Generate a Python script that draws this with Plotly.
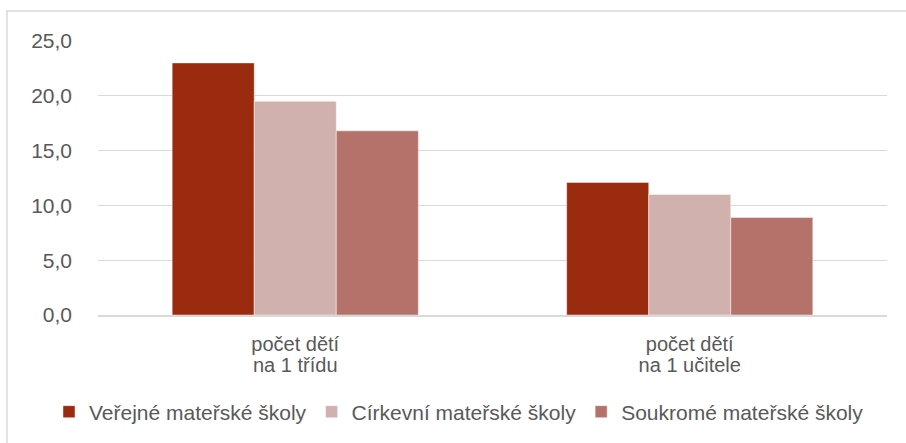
import plotly.graph_objects as go

categories = ["počet dětí na 1 třídu", "počet dětí na 1 učitele"]
cat_line1 = ["počet dětí", "počet dětí"]
cat_line2 = ["na 1 třídu", "na 1 učitele"]
series_names = ["Veřejné mateřské školy", "Církevní mateřské školy", "Soukromé mateřské školy"]
verejne = [23.0, 12.1]
cirkevni = [19.5, 11.0]
soukrome = [16.8, 8.9]
tick_vals = [0, 5, 10, 15, 20, 25]
tick_text = ["0,0", "5,0", "10,0", "15,0", "20,0", "25,0"]

colors = ["#9B2B0E", "#D0B1AE", "#B5726B"]
W, H = 906, 443
L, R, T, B = 98, 19, 41, 127
FS = 21
GREY = "#595959"

fig = go.Figure()
for name, vals, col in zip(series_names, [verejne, cirkevni, soukrome], colors):
    fig.add_trace(go.Bar(x=categories, y=vals, name=name,
                         marker=dict(color=col, line=dict(color="rgba(255,255,255,0.45)", width=1))))
# helper trace so the second-line category axis is drawn
fig.add_trace(go.Scatter(x=[0, 1], y=[None, None], xaxis="x2", yaxis="y",
                         showlegend=False, hoverinfo="skip", mode="markers"))

pw, ph = W - L - R, H - T - B
fig.update_layout(
    width=W, height=H,
    margin=dict(l=L, r=R, t=T, b=B, pad=0),
    paper_bgcolor="white", plot_bgcolor="white",
    barmode="group", bargap=0.376, bargroupgap=0,
    font=dict(family="Liberation Sans, Arial, sans-serif", size=FS, color=GREY),
    xaxis=dict(showgrid=False, showline=True, linecolor="#d9d9d9", linewidth=1.5,
               range=[-0.5, 1.5], tickvals=categories, ticktext=cat_line1, automargin=False,
               ticks="", tickfont=dict(size=20, color=GREY), ticklabelstandoff=10),
    xaxis2=dict(overlaying="x", side="bottom", anchor="y", range=[-0.5, 1.5],
                tickvals=[0, 1], ticktext=cat_line2, showgrid=False, zeroline=False,
                showline=False, ticks="", tickfont=dict(size=20, color=GREY),
                ticklabelstandoff=36, automargin=False),
    yaxis=dict(range=[0, 25], tickvals=tick_vals, ticktext=tick_text, showgrid=True,
               gridcolor="#d9d9d9", gridwidth=1.3, zeroline=False, showline=False,
               automargin=False,
               ticks="", ticklabelstandoff=25, tickfont=dict(size=FS, color=GREY)),
    legend=dict(orientation="h", x=(49 - L) / pw, xanchor="left", y=-(412 - 316) / ph,
                yanchor="middle", font=dict(size=FS, color=GREY), itemwidth=30,
                traceorder="normal"),
    showlegend=True,
)
fig.add_shape(type="rect", xref="paper", yref="paper",
              x0=(7 - L) / pw, x1=(W + 5 - L) / pw,
              y0=-(H + 5 - T - ph) / ph, y1=1 + (T - 11) / ph,
              line=dict(color="#d9d9d9", width=1.5), fillcolor="rgba(0,0,0,0)", layer="below")
fig.write_html("out.html", config={"displayModeBar": False},
               post_script="document.body.style.margin='0';")
